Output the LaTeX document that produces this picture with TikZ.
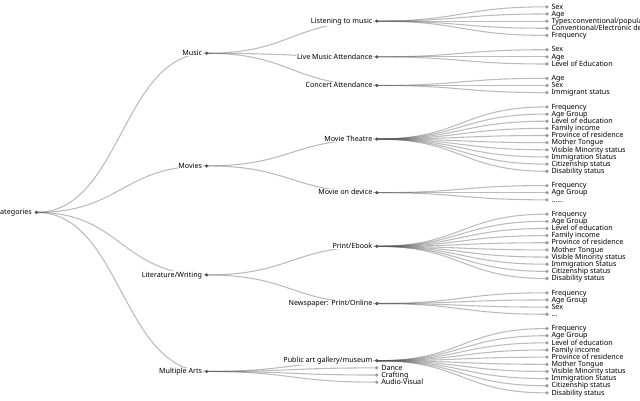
\documentclass[tikz,border=0pt]{standalone}
\usepackage{fontspec}
\setmainfont{Noto Sans}
\usetikzlibrary{calc}
\pgfdeclarelayer{bg}
\pgfsetlayers{bg,main}
\tikzset{
  pdot/.style={circle,fill={rgb,255:red,85;green,85;blue,85},draw=none,inner sep=0pt,minimum size=3.58pt},
  ldot/.style={circle,fill={rgb,255:red,153;green,153;blue,153},draw=none,inner sep=0pt,minimum size=3.58pt},
  plab/.style={anchor=base east,fill=white,inner xsep=0.6pt,inner ysep=0.5pt,font=\fontsize{7.17}{8}\selectfont},
  llab/.style={anchor=base west,inner sep=0pt,font=\fontsize{7.17}{8}\selectfont},
  dlink/.style={draw={rgb,255:red,85;green,85;blue,85},draw opacity=0.4,line width=1.07pt},
  dcurve/.style={to path={let \p1=(\tikztostart), \p2=(\tikztotarget) in
     .. controls ({0.5*\x1+0.5*\x2},\y1) and ({0.5*\x1+0.5*\x2},\y2) .. (\tikztotarget)}}
}
\newcommand\PN[4]{\node[pdot] (#1) at (#2,{6.8+7.15*(#3)}) {};
  \node[plab] (#1-t) at ([xshift=-3.7pt,yshift=-2.22pt]#1.center) {#4};}
\newcommand\LN[4]{\node[ldot] (#1) at (#2,{6.8+7.15*(#3)}) {};
  \node[llab] (#1-t) at ([xshift=4.3pt,yshift=-2.22pt]#1.center) {#4};}
\newcommand\LK[2]{\draw[dlink] (#1.center) to[dcurve] (#2.center);}
\begin{document}
\begin{tikzpicture}[x=1pt,y=-1pt]
\useasboundingbox (0,0) rectangle (640,400);
\clip (0,0) rectangle (640,400);
% level 0 and 1
\PN{root}{36.4}{28.75}{Categories}
\PN{music}{206.6}{6.5}{Music}
\PN{movies}{206.6}{22.25}{Movies}
\PN{lit}{206.6}{37.5}{Literature/Writing}
\PN{arts}{206.6}{51}{Multiple Arts}
% level 2
\PN{listen}{376.8}{2}{Listening to music}
\PN{live}{376.8}{7}{Live Music Attendance}
\PN{concert}{376.8}{11}{Concert Attendance}
\PN{mt}{376.8}{18.5}{Movie Theatre}
\PN{md}{376.8}{26}{Movie on device}
\PN{pe}{376.8}{33.5}{Print/Ebook}
\PN{np}{376.8}{41.5}{Newspaper: Print/Online}
\PN{pa}{376.8}{49.5}{Public art gallery/museum}
\LN{dance}{376.8}{50.5}{Dance}
\LN{craft}{376.8}{51.5}{Crafting}
\LN{av}{376.8}{52.5}{Audio-Visual}
% leaves
\foreach \t [count=\i] in {Sex,Age,Types:conventional/popular,Conventional/Electronic devices,Frequency}
  {\LN{ls\i}{547}{\i-1}{\t}}
\foreach \t [count=\i] in {Sex,Age,Level of Education}
  {\LN{lv\i}{547}{5+\i}{\t}}
\foreach \t [count=\i] in {Age,Sex,Immigrant status}
  {\LN{ca\i}{547}{9+\i}{\t}}
\foreach \t [count=\i] in {Frequency,Age Group,Level of education,Family income,Province of residence,Mother Tongue,Visible Minority status,Immigration Status,Citizenship status,Disability status}
  {\LN{mt\i}{547}{13+\i}{\t}
   \LN{pe\i}{547}{28+\i}{\t}
   \LN{pa\i}{547}{44+\i}{\t}}
\LN{md1}{547}{25}{Frequency}
\LN{md2}{547}{26}{Age Group}
\LN{md3}{547}{27}{......}
\LN{np1}{547}{40}{Frequency}
\LN{np2}{547}{41}{Age Group}
\LN{np3}{547}{42}{Sex}
\LN{np4}{547}{43}{...}
% links
\begin{pgfonlayer}{bg}
\foreach \a/\b in {root/music,root/movies,root/lit,root/arts,
  music/listen,music/live,music/concert,movies/mt,movies/md,lit/pe,lit/np,
  arts/pa,arts/dance,arts/craft,arts/av}
  {\LK{\a}{\b}}
\foreach \i in {1,2,3,4,5} {\LK{listen}{ls\i}}
\foreach \i in {1,2,3} {\LK{live}{lv\i}\LK{concert}{ca\i}\LK{md}{md\i}}
\foreach \i in {1,2,3,4} {\LK{np}{np\i}}
\foreach \i in {1,2,3,4,5,6,7,8,9,10} {\LK{mt}{mt\i}\LK{pe}{pe\i}\LK{pa}{pa\i}}
\end{pgfonlayer}
\end{tikzpicture}
\end{document}
